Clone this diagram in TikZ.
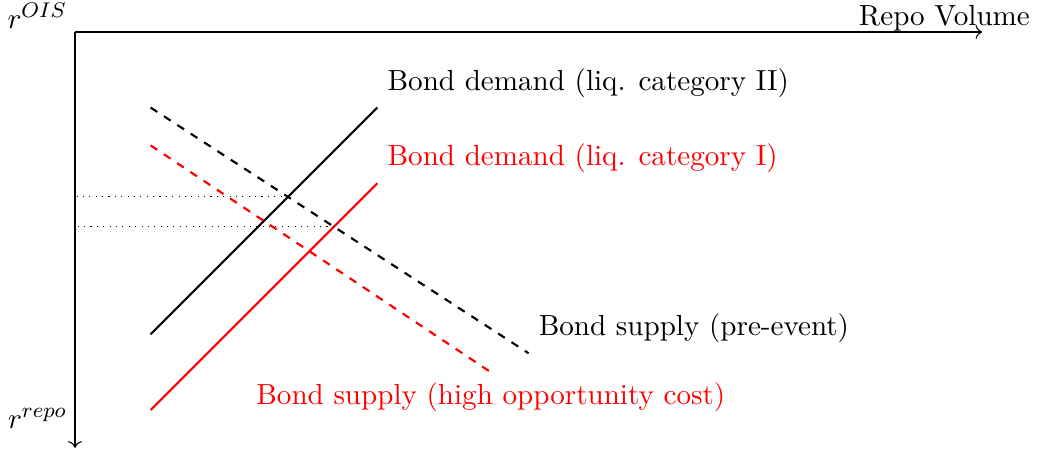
\documentclass[11pt,tikz,border=0pt]{standalone}
\usepackage{amsmath, amssymb}
\usetikzlibrary{arrows.meta, positioning, intersections}

\begin{document}
\begin{tikzpicture}[
    axis/.style={->},
    demand/.style={thick},
    supply/.style={thick, dashed},
    guide/.style={dotted}
]
\useasboundingbox (-0.992,-5.529) rectangle (12.725,0.423);

% axes
\coordinate (origin) at (0,0);
\coordinate (xend) at (12,0);
\coordinate (yend) at (0,-5.5);
\draw[axis] (origin) -- (xend);
\draw[axis] (origin) -- (yend);
\node[anchor=base] (xlabel) at (11.5,0.08) {Repo Volume};
\node[anchor=base east, inner sep=0pt] (rois) at (-0.1,0.05) {$r^{OIS}$};
\node[anchor=base east, inner sep=0pt] (rrepo) at (-0.1,-5.24) {$r^{repo}$};

% curves
\coordinate (dII-start) at (1,-4);
\coordinate (dII-end) at (4,-1);
\coordinate (dI-start) at (1,-5);
\coordinate (dI-end) at (4,-2);
\coordinate (spre-start) at (1,-1);
\coordinate (spre-end) at (6,-4.25);
\coordinate (shigh-start) at (1,-1.5);
\coordinate (shigh-end) at (5.5,-4.5);

\draw[demand, name path=dII] (dII-start) -- (dII-end);
\draw[demand, red, name path=dI] (dI-start) -- (dI-end);
\draw[supply, name path=spre] (spre-start) -- (spre-end);
\draw[supply, red] (shigh-start) -- (shigh-end);

\node[above right] (dIIlabel) at (dII-end) {Bond demand (liq. category II)};
\node[above right, red] (dIlabel) at (dI-end) {Bond demand (liq. category I)};
\node[above right] (sprelabel) at (spre-end) {Bond supply (pre-event)};
\node[below, red] (shighlabel) at (shigh-end) {Bond supply (high opportunity cost)};

% equilibrium rates
\path[name intersections={of=dII and spre, by=eqII}];
\path[name intersections={of=dI and spre, by=eqI}];
\draw[guide] (eqII) -- (eqII -| origin);
\draw[guide] (eqI) -- (eqI -| origin);
\end{tikzpicture}
\end{document}
